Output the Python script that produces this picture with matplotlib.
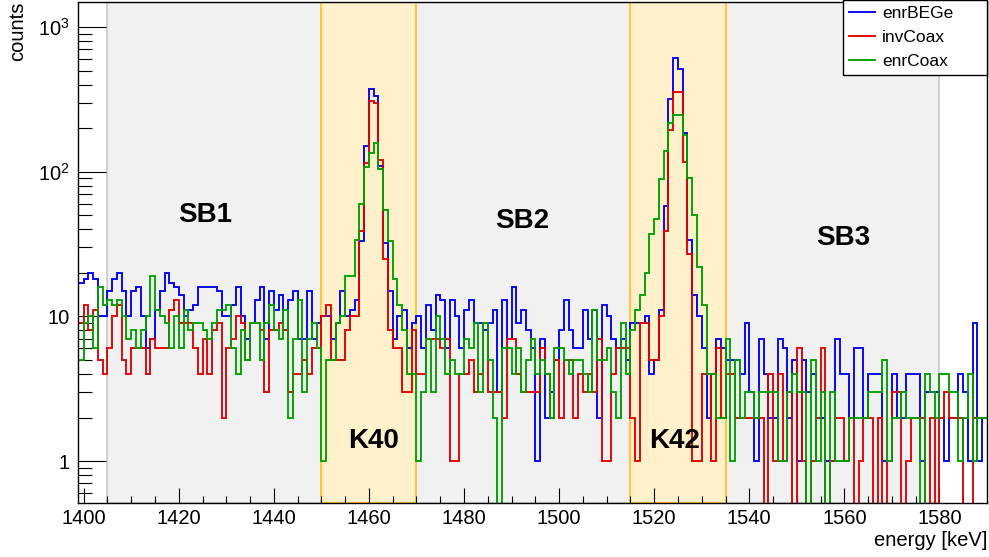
import numpy as np
import matplotlib
matplotlib.use('Agg')
import matplotlib.pyplot as plt
from matplotlib.ticker import FixedLocator, FuncFormatter, MultipleLocator, LogLocator, NullFormatter

plt.rcParams['font.family'] = ['Liberation Sans', 'DejaVu Sans']
plt.rcParams['mathtext.fontset'] = 'custom'
plt.rcParams['mathtext.rm'] = 'Liberation Sans'

# 1 keV bins, 1399 .. 1590 keV
edges = np.arange(1399, 1591)

enr_bege = [
    17, 18, 20, 18, 10, 10, 15, 18, 20, 15, 10, 15, 16, 10, 6, 7, 11, 15, 20, 17,
    16, 14, 10, 11, 12, 16, 16, 16, 16, 15, 10, 10, 12, 16, 10, 7, 9, 13, 16, 7,
    15, 11, 14, 8, 13, 15, 7, 7, 15, 7, 9, 10, 10, 7, 9, 15, 10, 11, 13, 33,
    151, 372, 335, 110, 32, 15, 7, 10, 11, 6, 9, 10, 6, 12, 8, 14, 13, 6, 13, 10,
    6, 11, 13, 9, 9, 8, 9, 11, 3, 13, 7, 16, 9, 11, 8, 6, 1, 7, 2, 3,
    5, 8, 13, 8, 6, 6, 11, 7, 11, 2, 12, 10, 7, 6, 7, 5, 9, 9, 9, 10,
    4, 5, 11, 58, 318, 607, 517, 184, 34, 14, 10, 6, 2, 4, 7, 6, 5, 5, 5, 4,
    9, 3, 1, 7, 4, 2, 2, 7, 6, 2, 5, 1, 5, 3, 4, 2, 2, 1, 1, 7,
    4, 4, 2, 6, 6, 2, 4, 4, 4, 1, 1, 4, 2, 2, 4, 4, 4, 1, 3, 3,
    3, 2, 1, 2, 2, 4, 3, 1, 9, 1, 2,
]
inv_coax = [
    9, 12, 8, 11, 5, 4, 6, 10, 12, 5, 4, 6, 6, 6, 4, 7, 6, 6, 6, 11,
    13, 9, 9, 9, 6, 4, 7, 4, 8, 9, 2, 6, 7, 10, 9, 5, 9, 9, 8, 3,
    8, 8, 9, 8, 3, 4, 4, 5, 4, 6, 6, 10, 12, 5, 5, 5, 8, 10, 10, 39,
    114, 309, 300, 120, 25, 8, 6, 6, 3, 3, 8, 4, 4, 7, 7, 7, 6, 7, 1, 1,
    4, 4, 5, 3, 4, 9, 3, 3, 3, 2, 7, 7, 4, 3, 3, 3, 3, 6, 4, 2,
    5, 2, 5, 5, 2, 4, 3, 4, 3, 7, 1, 1, 4, 6, 6, 6, 2, 1, 9, 9,
    5, 5, 10, 39, 194, 353, 353, 117, 27, 1, 1, 4, 4, 1, 6, 2, 4, 4, 2, 2,
    2, 2, 2, 2, 0, 4, 1, 4, 1, 3, 0, 6, 1, 0, 1, 2, 6, 0, 1, 2,
    2, 1, 2, 0, 1, 2, 2, 0, 2, 0, 1, 3, 3, 0, 1, 2, 2, 2, 0, 2,
    0, 2, 3, 2, 2, 2, 0, 0, 2, 2, 2,
]
enr_coax = [
    5, 9, 10, 6, 16, 12, 13, 12, 13, 10, 7, 8, 6, 8, 10, 19, 11, 10, 9, 6,
    10, 6, 11, 8, 9, 9, 8, 7, 9, 11, 11, 12, 6, 4, 8, 5, 9, 9, 5, 9,
    12, 8, 7, 11, 2, 7, 13, 3, 7, 9, 6, 1, 5, 5, 9, 10, 19, 19, 34, 60,
    108, 135, 158, 105, 54, 33, 18, 12, 8, 4, 4, 1, 3, 7, 3, 10, 7, 4, 5, 4,
    4, 7, 6, 9, 3, 9, 5, 2, 0, 6, 6, 4, 6, 3, 5, 7, 4, 5, 4, 2,
    6, 6, 5, 4, 5, 5, 4, 3, 11, 5, 5, 6, 3, 2, 9, 4, 8, 11, 14, 20,
    37, 47, 89, 140, 216, 246, 246, 179, 90, 50, 22, 12, 4, 4, 2, 2, 7, 1, 5, 2,
    3, 3, 2, 3, 3, 3, 3, 1, 1, 3, 4, 3, 3, 0, 5, 1, 3, 0, 3, 1,
    1, 1, 2, 2, 2, 2, 3, 3, 3, 5, 1, 2, 2, 3, 2, 2, 2, 0, 4, 3,
    2, 4, 4, 3, 3, 1, 2, 4, 1, 2, 2,
]

series_names = ['enrBEGe', 'invCoax', 'enrCoax']
series_colors = ['#0000f0', '#e00000', '#00a000']

sideband_range = (1405, 1580)
peak_windows = [(1450, 1470), (1515, 1535)]
region_names = ['SB1', 'SB2', 'SB3', 'K40', 'K42']
region_pos = [(1425.5, 50), (1492.2, 46), (1559.8, 35), (1461, 1.37), (1524.2, 1.37)]

W, H = 989, 557
fig = plt.figure(figsize=(W / 100, H / 100), dpi=100)
ax = fig.add_axes([78 / W, 1 - 503 / H, (987 - 78) / W, (503 - 2) / H])

ax.axvspan(*sideband_range, facecolor='#f1f1f1', edgecolor='#c8c8c8', lw=1.2, zorder=0)
for lo, hi in peak_windows:
    ax.axvspan(lo, hi, facecolor='#fff0cc', edgecolor='#ffc83c', lw=1.5, zorder=1)

for vals, name, col in zip([enr_bege, inv_coax, enr_coax], series_names, series_colors):
    ax.stairs(vals, edges, baseline=None, color=col, lw=1.35, label=name, zorder=3)

for name, (x, y) in zip(region_names, region_pos):
    ax.text(x, y, name, ha='center', va='center', fontsize=20, fontweight='bold', zorder=4)

ax.set_yscale('log', nonpositive='clip')
ax.set_xlim(1398.8, 1590)
ax.set_ylim(0.513, 1490)

ax.xaxis.set_major_locator(MultipleLocator(20))
ax.xaxis.set_minor_locator(MultipleLocator(5))
ax.yaxis.set_major_locator(FixedLocator([1, 10, 100, 1000]))
ax.yaxis.set_minor_locator(LogLocator(subs=np.arange(2, 10)))
ax.yaxis.set_minor_formatter(NullFormatter())


def decade_label(v, pos):
    if v < 50:
        return f'{v:g}'
    return r'$\mathregular{10^{%d}}$' % round(np.log10(v))


ax.yaxis.set_major_formatter(FuncFormatter(decade_label))

ax.tick_params(axis='both', which='both', direction='in', top=False, right=False,
               width=0.8, labelsize=14.5, colors='black')
ax.tick_params(axis='x', which='major', length=10.8, pad=4)
ax.tick_params(axis='x', which='minor', length=5.4)
ax.tick_params(axis='y', which='major', length=20, pad=6)
ax.tick_params(axis='y', which='minor', length=10)
for sp in ax.spines.values():
    sp.set_linewidth(1.0)
    sp.set_zorder(5)

fig.text(987 / W, 1 - 540 / H, 'energy [keV]', ha='right', va='center', fontsize=14.5)
fig.text(18 / W, 1 - 2 / H, 'counts', ha='center', va='top', rotation=90, fontsize=14.5)

lgd = ax.legend(loc='upper left', bbox_to_anchor=(843 / W, 1 - 87 / H, 144 / W, 87 / H),
                bbox_transform=fig.transFigure, mode='expand', fontsize=12.5,
                handlelength=1.5, handletextpad=0.4, borderpad=0.35, labelspacing=0.5,
                borderaxespad=0, fancybox=False, framealpha=1, edgecolor='black')
lgd.get_frame().set_linewidth(1.0)
lgd.set_zorder(6)

fig.savefig('out.png', dpi=100)
